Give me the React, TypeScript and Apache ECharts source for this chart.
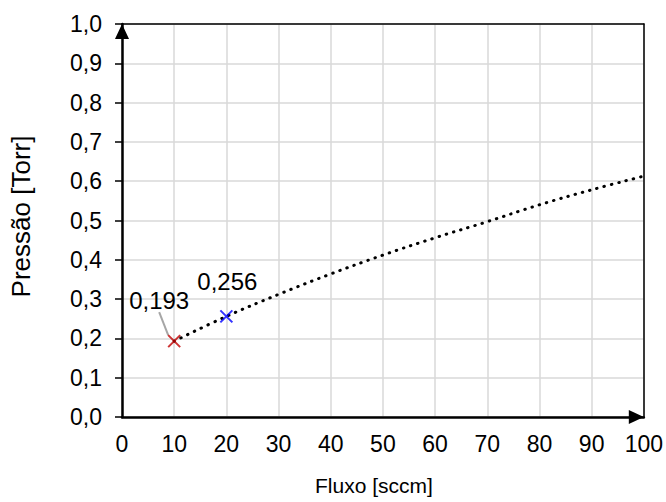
import React, { useEffect, useRef } from "react";
import * as echarts from "echarts";

// Measured points: gas flow (sccm) vs chamber pressure (Torr)
const fluxPoints = [10, 20];
const pressurePoints = [0.193, 0.256];
const pointColors = ["#c00000", "#0000ff"];

// Trend curve through the measurements, sampled every 10 sccm
const trendFlux = [10, 20, 30, 40, 50, 60, 70, 80, 90, 100];
const trendPressure = [0.193, 0.256, 0.312, 0.364, 0.412, 0.456, 0.497, 0.54, 0.578, 0.613];

const xTicks = [0, 10, 20, 30, 40, 50, 60, 70, 80, 90, 100];
const yTicks = [0, 0.1, 0.2, 0.3, 0.4, 0.5, 0.6, 0.7, 0.8, 0.9, 1.0];

const FONT = "'Liberation Sans', Arial, sans-serif";
const fmtComma = (v: number, d: number) => v.toFixed(d).replace(".", ",");

export default function App() {
  const ref = useRef<HTMLDivElement>(null);

  useEffect(() => {
    if (!ref.current) return;
    const chart = echarts.init(ref.current, undefined, { renderer: "svg" });

    const crossPath = "path://M0,0L10,10M10,0L0,10";

    chart.setOption({
      animation: false,
      backgroundColor: "#ffffff",
      textStyle: { fontFamily: FONT },
      grid: { left: 118, right: 21, top: 24, bottom: 85, containLabel: false },
      xAxis: [
        {
          type: "value",
          min: xTicks[0],
          max: xTicks[xTicks.length - 1],
          interval: 10,
          name: "Fluxo [sccm]",
          nameLocation: "middle",
          nameGap: 58,
          nameTextStyle: { fontSize: 21, color: "#000", fontFamily: FONT, padding: [0, 18, 0, 0] },
          axisLine: {
            show: true,
            onZero: false,
            symbol: ["none", "triangle"],
            symbolSize: [14, 15],
            symbolOffset: [0, -7.5],
            lineStyle: { color: "#000", width: 2.5 },
          },
          axisTick: { show: false },
          axisLabel: { fontSize: 23, color: "#000", margin: 15, fontFamily: FONT },
          splitLine: { show: true, lineStyle: { color: "#d9d9d9", width: 1.5 } },
        },
        {
          type: "value",
          position: "top",
          min: 0,
          max: 100,
          interval: 10,
          axisLine: { show: true, onZero: false, lineStyle: { color: "#000", width: 1.5 } },
          axisTick: { show: false },
          axisLabel: { show: false },
          splitLine: { show: false },
        },
      ],
      yAxis: [
        {
          type: "value",
          min: yTicks[0],
          max: yTicks[yTicks.length - 1],
          interval: 0.1,
          name: "Pressão [Torr]",
          nameLocation: "middle",
          nameGap: 88,
          nameRotate: 90,
          nameTextStyle: { fontSize: 26, color: "#000", fontFamily: FONT, padding: [0, 0, 0, 8] },
          axisLine: {
            show: true,
            onZero: false,
            symbol: ["none", "triangle"],
            symbolSize: [14, 15],
            symbolOffset: [0, -7.5],
            lineStyle: { color: "#000", width: 2.5 },
          },
          axisTick: { show: true, length: 7, lineStyle: { color: "#000", width: 1.5 } },
          axisLabel: {
            fontSize: 23,
            color: "#000",
            margin: 20,
            fontFamily: FONT,
            formatter: (v: number) => fmtComma(v, 1),
          },
          splitLine: { show: true, lineStyle: { color: "#d9d9d9", width: 1.5 } },
        },
        {
          type: "value",
          position: "right",
          min: 0,
          max: 1,
          interval: 0.1,
          axisLine: { show: true, onZero: false, lineStyle: { color: "#000", width: 1.5 } },
          axisTick: { show: false },
          axisLabel: { show: false },
          splitLine: { show: false },
        },
      ],
      series: [
        {
          type: "line",
          name: "trend",
          data: trendFlux.map((x, i) => [x, trendPressure[i]]),
          smooth: 0.4,
          showSymbol: false,
          symbol: "none",
          lineStyle: { color: "#000", width: 3, type: [0.5, 7], cap: "round" },
          z: 2,
        },
        {
          type: "scatter",
          name: "medidas",
          data: fluxPoints.map((x, i) => ({
            value: [x, pressurePoints[i]],
            itemStyle: { color: "transparent", borderColor: pointColors[i], borderWidth: 2 },
            label: { color: "#000", opacity: 1 },
            labelLine: { show: i === 0 },
          })),
          symbol: crossPath,
          symbolSize: 12,
          label: {
            show: true,
            position: "top",
            distance: 8,
            fontSize: 24,
            color: "#000",
            opacity: 1,
            fontFamily: FONT,
            formatter: (p: any) => fmtComma(p.value[1], 3),
          },
          labelLayout: (p: any) =>
            p.dataIndex === 0 ? { dx: -15, dy: -14 } : { dx: 1, dy: -8 },
          labelLine: {
            show: false,
            length2: 0,
            smooth: false,
            lineStyle: { color: "#a6a6a6", width: 2 },
          },
          emphasis: { disabled: true },
          z: 3,
        },
      ],
    });

    return () => chart.dispose();
  }, []);

  return (
    <div
      ref={ref}
      style={{ position: "fixed", left: 0, top: 0, width: 666, height: 502, background: "#fff" }}
    />
  );
}
